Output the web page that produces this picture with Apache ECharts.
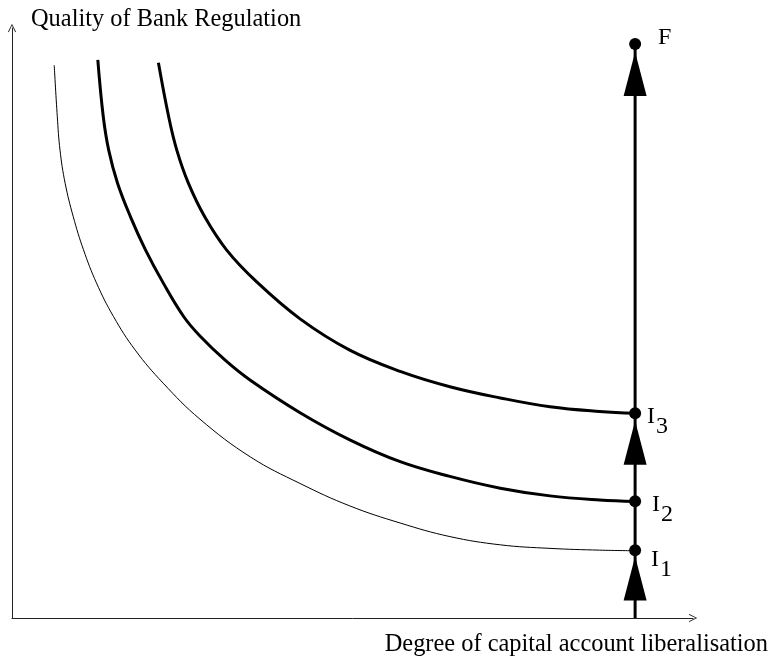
<!DOCTYPE html>
<html>
<head>
<meta charset="utf-8">
<script src="https://cdn.jsdelivr.net/npm/echarts@6/dist/echarts.min.js"></script>
<style>
  html, body { margin: 0; padding: 0; background: #fff; }
  #chart { width: 780px; height: 667px; }
</style>
</head>
<body>
<div id="chart"></div>
<script>
// axis titles
const xName = 'Degree of capital account liberalisation'
const yName = 'Quality of Bank Regulation'

// indifference curves, [liberalisation, regulation] on a 0-100 scale
const curve1 = [[6.2, 93.7], [6.65, 85.0], [7.05, 79.3], [7.8, 73.7], [9.0, 68.0], [10.5, 62.4], [12.4, 56.8],
  [14.9, 51.1], [18.1, 45.4], [22.2, 39.8], [27.6, 33.7], [35.0, 27.3], [42.3, 22.8], [49.6, 19.0],
  [57.0, 16.1], [64.3, 13.8], [71.7, 12.4], [79.0, 11.8], [86.3, 11.5], [91.5, 11.4]]
const curve2 = [[12.6, 94.6], [13.4, 85.0], [14.2, 79.3], [15.5, 73.7], [17.4, 68.0], [19.6, 62.4], [22.2, 56.8],
  [25.2, 51.1], [27.6, 47.8], [31.3, 43.7], [35.0, 40.3], [42.3, 34.8], [49.6, 30.2], [57.0, 26.5], [64.3, 24.0],
  [71.7, 22.0], [79.0, 20.7], [86.3, 20.0], [91.5, 19.75]]
const curve3 = [[21.5, 94.1], [23.0, 85.0], [24.2, 79.3], [25.9, 73.7], [28.3, 68.0], [31.5, 62.4], [35.9, 57.0],
  [42.3, 50.7], [49.6, 45.4], [57.0, 41.8], [64.3, 39.2], [71.7, 37.3], [79.0, 35.8], [86.3, 35.0], [91.5, 34.7]]

// path of full liberalisation
const pathX = 91.5
const pathY = [0, 97.3]
const arrowY = [6.7, 29.7, 92.2]

// labelled points
const pointNames = ['I1', 'I2', 'I3', 'F']
const pointY = [11.5, 19.8, 34.7, 97.3]

const serif = 'Liberation Serif, Times New Roman, serif'
const openArrow = 'path://M5,0 L10,10 L9,10.6 L5,2.2 L1,10.6 L0,10 Z'

// label offsets for each point [dx, dy]
const labelOffset = { I1: [5, 15], I2: [6, 9], I3: [1, 8], F: [12, -6] }

let myChart = echarts.init(document.getElementById('chart'))

const points = pointNames.map((name, i) => {
  let fmt = name === 'F' ? 'F' : '{a|I}{b|' + name.slice(1) + '}'
  return {
    value: [pathX, pointY[i]],
    label: {
      show: true,
      position: 'right',
      distance: 5,
      offset: labelOffset[name],
      formatter: fmt
    }
  }
})

const axisCommon = {
  type: 'value',
  min: 0,
  max: 100,
  axisTick: { show: false },
  axisLabel: { show: false },
  splitLine: { show: false },
  axisLine: {
    show: true,
    symbol: ['none', openArrow],
    symbolSize: [8, 12],
    lineStyle: { color: '#222', width: 1 }
  }
}

let option = {
  animation: false,
  backgroundColor: '#fff',
  grid: { left: 12, right: 87, top: 28, bottom: 49 },
  xAxis: Object.assign({}, axisCommon, {
    name: xName,
    nameLocation: 'end',
    nameGap: 75,
    nameTextStyle: {
      fontFamily: serif, fontSize: 24.4, color: '#000',
      align: 'right', verticalAlign: 'top', padding: [15, 0, 0, 0]
    }
  }),
  yAxis: Object.assign({}, axisCommon, {
    name: yName,
    nameLocation: 'end',
    nameGap: -4,
    nameTextStyle: {
      fontFamily: serif, fontSize: 24.4, color: '#000',
      align: 'left', padding: [0, 0, 0, 19]
    }
  }),
  series: [
    {
      type: 'line', data: curve1, smooth: 0.4, symbol: 'none',
      lineStyle: { color: '#000', width: 1 }
    },
    {
      type: 'line', data: curve2, smooth: 0.4, symbol: 'none',
      lineStyle: { color: '#000', width: 3 }
    },
    {
      type: 'line', data: curve3, smooth: 0.4, symbol: 'none',
      lineStyle: { color: '#000', width: 3 }
    },
    {
      type: 'line', data: pathY.map(y => [pathX, y]), symbol: 'none',
      lineStyle: { color: '#000', width: 3 }, z: 3
    },
    {
      type: 'scatter', data: arrowY.map(y => [pathX, y]),
      symbol: 'triangle', symbolSize: [23, 44],
      itemStyle: { color: '#000', opacity: 1 }, z: 4
    },
    {
      type: 'scatter', data: points, symbol: 'circle', symbolSize: 12,
      itemStyle: { color: '#000', opacity: 1 }, z: 5,
      label: {
        color: '#000', fontFamily: serif, fontSize: 24,
        rich: {
          a: { fontFamily: serif, fontSize: 24, color: '#000', verticalAlign: 'top' },
          b: { fontFamily: serif, fontSize: 24, color: '#000', padding: [10, 0, 0, 1] }
        }
      }
    }
  ]
}

myChart.setOption(option)
</script>
</body>
</html>
